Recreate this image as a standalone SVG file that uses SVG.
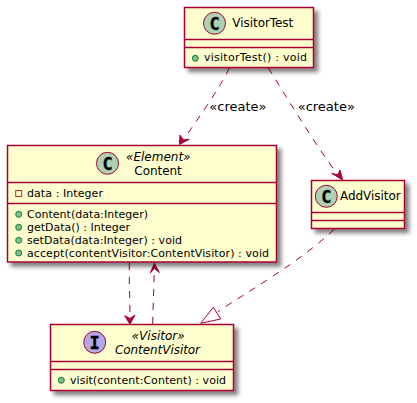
<svg xmlns="http://www.w3.org/2000/svg" width="417" height="403" viewBox="0 0 417 403">
<style>
text{font-family:"DejaVu Sans",sans-serif;fill:#000}
.box{fill:#FEFECE;stroke:#A80036;stroke-width:1.5;filter:url(#sh)}
.div{stroke:#A80036;stroke-width:1.5}
.name{font-size:12px}
.st{font-size:12px;font-style:italic}
.m{font-size:11px}
.lb{font-size:13px}
.ci{stroke:#A80036;stroke-width:1}
.pub{fill:#84BE84;stroke:#038048;stroke-width:1}
.pri{fill:none;stroke:#C82930;stroke-width:1}
.glyph{font-size:17px;font-weight:bold;text-anchor:middle;font-family:"DejaVu Sans Mono",monospace;stroke:#000;stroke-width:.3}
.c{fill:none;stroke:#A80036;stroke-width:1;stroke-dasharray:7,7}
.h{fill:#A80036;stroke:#A80036;stroke-width:1}
.t{fill:none;stroke:#A80036;stroke-width:1}
</style>
<defs>
<filter id="sh" x="-10%" y="-10%" width="125%" height="135%">
<feGaussianBlur in="SourceAlpha" stdDeviation="2"/>
<feOffset dx="4" dy="4" result="b"/>
<feFlood flood-color="#000" flood-opacity="0.5"/>
<feComposite in2="b" operator="in"/>
<feMerge><feMergeNode/><feMergeNode in="SourceGraphic"/></feMerge>
</filter>
</defs>
<g id="connectors">
<path class="c" d="M229.300,68 C220,88 196,122 183,140"/>
<path class="h" d="M179.300,144.500 L189.300,139.300 L183.300,140 L180,135 Z"/>
<text class="lb" x="209.300" y="111">«create»</text>
<path class="c" d="M268.300,68 C286,96 312,140 338,175"/>
<path class="h" d="M342.700,180 L340,170 L338,175 L331.700,173.300 Z"/>
<text class="lb" x="297.700" y="111">«create»</text>
<path class="c" d="M129.300,263 C129,283 130,300 130,318"/>
<path class="h" d="M130,324.300 L135,315 L130,318.500 L124.700,315.700 Z"/>
<path class="c" d="M152.700,324 C153,305 154,289 154.300,268.500"/>
<path class="h" d="M154.300,263.300 L150.300,273 L154.300,268.500 L159.300,272.500 Z"/>
<path class="c" d="M334,229.300 C300,262 250,290 218,311.700"/>
<path class="t" d="M200.700,323.300 L220.700,319 L213.300,307.300 Z"/>
</g>
<g id="VisitorTest">
<rect class="box" x="184.500" y="7.500" width="129" height="60"/>
<circle class="ci" cx="214.500" cy="23.300" r="11" fill="#ADD1B2"/>
<text class="glyph" x="214.500" y="29.500">C</text>
<text class="name" x="232.300" y="27" textLength="61">VisitorTest</text>
<line class="div" x1="184.500" y1="39.500" x2="313.500" y2="39.500"/>
<line class="div" x1="184.500" y1="47.500" x2="313.500" y2="47.500"/>
<circle class="pub" cx="195.300" cy="58.300" r="3"/>
<text class="m" x="204" y="61" textLength="103">visitorTest() : void</text>
</g>
<g id="Content">
<rect class="box" x="7.500" y="145.500" width="269" height="116.500"/>
<circle class="ci" cx="107.500" cy="163.300" r="11" fill="#ADD1B2"/>
<text class="glyph" x="107.500" y="169.500">C</text>
<text class="st" x="126" y="161">«Element»</text>
<text class="name" x="134.300" y="175" textLength="47.500">Content</text>
<line class="div" x1="7.500" y1="182.500" x2="276.500" y2="182.500"/>
<line class="div" x1="7.500" y1="203.500" x2="276.500" y2="203.500"/>
<rect class="pri" x="15.700" y="190.500" width="6" height="6"/>
<text class="m" x="27" y="197" textLength="76">data : Integer</text>
<circle class="pub" cx="18.700" cy="214.300" r="3"/>
<text class="m" x="27" y="218" textLength="121">Content(data:Integer)</text>
<circle class="pub" cx="18.700" cy="227.300" r="3"/>
<text class="m" x="27" y="231" textLength="103">getData() : Integer</text>
<circle class="pub" cx="18.700" cy="240.300" r="3"/>
<text class="m" x="27" y="244" textLength="155">setData(data:Integer) : void</text>
<circle class="pub" cx="18.700" cy="253" r="3"/>
<text class="m" x="27" y="256.500" textLength="242">accept(contentVisitor:ContentVisitor) : void</text>
</g>
<g id="AddVisitor">
<rect class="box" x="311.500" y="180.500" width="93" height="48"/>
<circle class="ci" cx="326.300" cy="196.300" r="11" fill="#ADD1B2"/>
<text class="glyph" x="326.300" y="202.500">C</text>
<text class="name" x="340" y="200" textLength="60.700">AddVisitor</text>
<line class="div" x1="311.500" y1="212.500" x2="404.500" y2="212.500"/>
<line class="div" x1="311.500" y1="220.500" x2="404.500" y2="220.500"/>
</g>
<g id="ContentVisitor">
<rect class="box" x="50.500" y="324.500" width="183" height="66"/>
<circle class="ci" cx="94.700" cy="342.300" r="11" fill="#B4A7E5"/>
<text class="glyph" x="94.700" y="348.500">I</text>
<text class="st" x="131.700" y="339.500">«Visitor»</text>
<text class="name" x="115" y="354" font-style="italic" textLength="85">ContentVisitor</text>
<line class="div" x1="50.500" y1="361.500" x2="233.500" y2="361.500"/>
<line class="div" x1="50.500" y1="369.500" x2="233.500" y2="369.500"/>
<circle class="pub" cx="61.300" cy="380.300" r="3"/>
<text class="m" x="70" y="384" textLength="156">visit(content:Content) : void</text>
</g>
</svg>
